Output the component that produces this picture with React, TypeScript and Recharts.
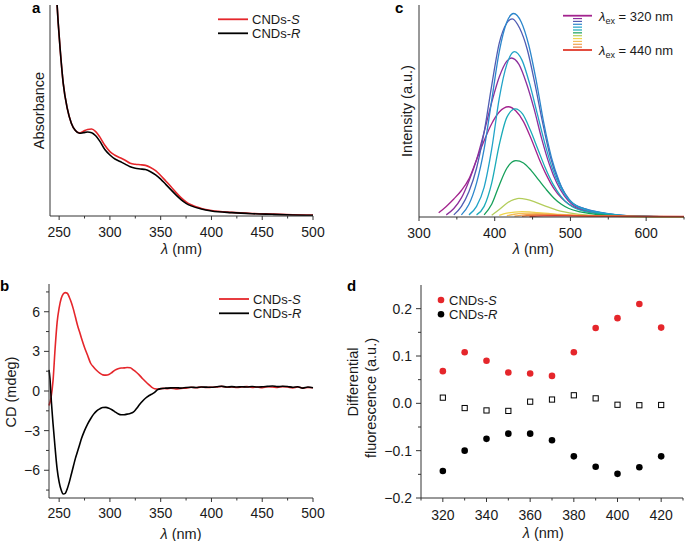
import { LineChart, Line, XAxis, YAxis, ScatterChart, Scatter } from 'recharts';

// ── Style constants ───────────────────────────────────────────────────────────
const FONT = '"Liberation Sans", Arial, Helvetica, sans-serif';
const INK = '#1a1a1a';
const AXIS = '#333333';
const RED = '#e5262b';
const BLACK = '#000000';

type Pt = [number, number];

// ── a: absorbance ─────────────────────────────────────────────────────────────
const absWavelength = [247, 249, 251, 254, 258, 262, 266, 270, 274, 278, 282, 286, 290, 295, 300, 305, 310, 315, 320, 325, 330, 335, 340, 345, 350, 355, 360, 365, 370, 375, 380, 390, 400, 420, 440, 460, 480, 500];
const absS = [108, 92, 79, 63, 51, 44, 40.5, 39.4, 40.2, 41, 41.2, 40, 37.5, 33.5, 30.5, 28.8, 27.6, 26.4, 25, 24.5, 24.3, 24, 23, 21.5, 19.2, 16.6, 14, 11.2, 8.7, 6.7, 5.3, 3.6, 2.6, 1.7, 1.2, 0.9, 0.6, 0.4];
const absR = [108, 92, 79, 63, 51, 44, 40.5, 39.2, 39.5, 39.8, 39.5, 38, 35.5, 31.5, 28.9, 27, 25.8, 24.6, 23.3, 22.6, 22.3, 22, 21, 19.5, 17.5, 15, 12.5, 10, 7.8, 6, 4.8, 3.3, 2.4, 1.6, 1.1, 0.8, 0.5, 0.3];
const absTicks = [250, 275, 300, 325, 350, 375, 400, 425, 450, 475, 500];

// ── b: circular dichroism ─────────────────────────────────────────────────────
const cdS: Pt[] = [
  [240, -1.1], [242, -0.5], [244, 0.8], [246, 3.2], [248, 5.2], [250, 6.3], [252, 7.0], [254, 7.35], [256, 7.45], [258, 7.4],
  [260, 7.1], [262, 6.7], [264, 6.2], [266, 5.6], [268, 5.0], [270, 4.5], [272, 4.0], [275, 3.3], [278, 2.7], [281, 2.1],
  [284, 1.8], [287, 1.55], [290, 1.35], [293, 1.22], [296, 1.2], [299, 1.25], [302, 1.4], [305, 1.58], [308, 1.68], [311, 1.74],
  [314, 1.75], [317, 1.78], [320, 1.76], [323, 1.6], [326, 1.42], [329, 1.2], [332, 0.95], [335, 0.72], [338, 0.5], [341, 0.3],
  [344, 0.17], [348, 0.15], [352, 0.2], [356, 0.18], [360, 0.22], [365, 0.16], [370, 0.2], [375, 0.22], [380, 0.28], [385, 0.25],
  [390, 0.3], [395, 0.26], [400, 0.28], [405, 0.3], [410, 0.35], [415, 0.28], [420, 0.3], [425, 0.26], [430, 0.3], [435, 0.33],
  [440, 0.26], [445, 0.3], [450, 0.25], [455, 0.32], [460, 0.3], [465, 0.27], [470, 0.33], [475, 0.3], [480, 0.24], [485, 0.3],
  [490, 0.22], [495, 0.26], [500, 0.24],
];
const cdR: Pt[] = [
  [240, 1.6], [241, 0.9], [242, -0.4], [244, -2.5], [246, -4.3], [248, -5.9], [250, -6.9], [252, -7.5], [254, -7.8], [256, -7.75],
  [258, -7.4], [260, -6.9], [262, -6.3], [264, -5.7], [266, -5.1], [268, -4.6], [270, -4.1], [272, -3.6], [275, -3.0], [278, -2.5],
  [281, -2.1], [284, -1.75], [287, -1.5], [290, -1.35], [293, -1.25], [296, -1.24], [299, -1.3], [302, -1.42], [305, -1.58], [308, -1.72],
  [311, -1.8], [314, -1.8], [317, -1.75], [320, -1.7], [323, -1.6], [326, -1.35], [329, -1.05], [332, -0.78], [335, -0.55], [338, -0.38],
  [341, -0.25], [344, -0.1], [347, 0.1], [350, 0.18], [355, 0.22], [360, 0.24], [365, 0.25], [370, 0.22], [375, 0.26], [380, 0.28],
  [385, 0.27], [390, 0.3], [395, 0.29], [400, 0.28], [405, 0.32], [410, 0.36], [415, 0.3], [420, 0.33], [425, 0.3], [430, 0.32],
  [435, 0.3], [440, 0.34], [445, 0.3], [450, 0.32], [455, 0.35], [460, 0.38], [465, 0.33], [470, 0.36], [475, 0.34], [480, 0.28],
  [485, 0.32], [490, 0.22], [495, 0.3], [500, 0.25],
];
const cdXTicks = [250, 275, 300, 325, 350, 375, 400, 425, 450, 475, 500];
const cdYTicks = [-7.5, -6, -4.5, -3, -1.5, 0, 1.5, 3, 4.5, 6, 7.5];

// ── c: emission spectra, one per excitation wavelength ───────────────────────
const pl320: Pt[] = [[326, 2], [336, 5], [346, 8.5], [356, 12.5], [366, 18], [376, 27], [386, 36], [396, 44], [406, 49.5], [418, 52], [428, 50], [438, 45], [448, 37], [458, 28], [468, 20], [478, 13.5], [488, 9], [498, 6], [513, 3.5], [533, 2], [553, 1], [580, 0.4], [650, 0.1]];
const pl330: Pt[] = [[336, 1], [346, 4], [356, 9], [366, 17], [376, 27], [386, 40], [396, 54], [406, 66], [416, 73.5], [422, 75], [432, 72], [442, 63], [452, 51], [462, 37], [472, 25], [482, 16], [492, 10], [502, 6], [517, 3.5], [537, 2], [557, 1], [580, 0.4], [650, 0.1]];
const pl340: Pt[] = [[346, 1], [356, 5], [366, 12], [376, 23], [386, 40], [396, 62], [406, 82], [416, 91.5], [423, 93.5], [433, 89], [443, 79], [453, 63], [463, 45], [473, 29], [483, 18], [493, 11], [503, 6.5], [518, 4], [538, 2.2], [558, 1.1], [580, 0.5], [610, 0.2], [650, 0.1]];
const pl350: Pt[] = [[356, 1], [366, 6], [376, 16], [386, 32], [396, 55], [406, 78], [416, 92], [425, 96], [435, 92], [445, 81], [455, 64], [465, 44], [475, 28], [485, 17], [495, 9.5], [505, 6], [520, 3.8], [540, 2.2], [560, 1.1], [580, 0.5], [610, 0.2], [650, 0.1]];
const pl360: Pt[] = [[366, 1], [376, 5], [386, 14], [396, 32], [406, 56], [416, 72], [426, 78], [436, 74], [446, 63], [456, 49], [466, 35], [476, 23], [486, 14.5], [496, 9], [506, 5.5], [521, 3.3], [541, 1.9], [561, 1], [585, 0.4], [650, 0.1]];
const pl370: Pt[] = [[376, 1], [386, 5], [396, 16], [406, 34], [416, 47], [427, 51], [437, 48.5], [447, 41], [457, 32], [467, 23], [477, 15.5], [487, 10], [497, 6.2], [507, 4], [522, 2.4], [542, 1.4], [562, 0.8], [590, 0.3], [650, 0.1]];
const pl380: Pt[] = [[386, 1], [396, 6], [406, 15], [416, 23], [428, 26.6], [438, 25.5], [448, 22], [458, 17.5], [468, 13], [478, 9], [488, 6], [498, 4], [513, 2.4], [533, 1.3], [553, 0.7], [580, 0.3], [650, 0.1]];
const pl390: Pt[] = [[396, 0.8], [406, 3.5], [416, 6.5], [426, 8.3], [432, 8.8], [442, 8.3], [452, 7.2], [462, 5.8], [472, 4.5], [482, 3.3], [492, 2.4], [507, 1.5], [527, 0.8], [550, 0.4], [580, 0.2], [650, 0.05]];
const pl400: Pt[] = [[406, 0.8], [416, 1.8], [426, 2.3], [436, 2.5], [446, 2.4], [456, 2.1], [466, 1.8], [476, 1.5], [486, 1.2], [500, 0.9], [520, 0.6], [545, 0.35], [580, 0.2], [650, 0.05]];
const pl410: Pt[] = [[416, 0.6], [426, 1.3], [436, 1.7], [446, 1.8], [456, 1.7], [466, 1.5], [476, 1.3], [490, 1.0], [510, 0.7], [530, 0.5], [560, 0.3], [600, 0.15], [650, 0.05]];
const pl420: Pt[] = [[426, 0.4], [436, 0.9], [446, 1.2], [456, 1.25], [466, 1.2], [476, 1.1], [490, 0.9], [510, 0.7], [530, 0.5], [560, 0.35], [600, 0.2], [650, 0.1]];
const pl430: Pt[] = [[436, 0.3], [446, 0.7], [456, 0.85], [466, 0.9], [480, 0.85], [500, 0.7], [520, 0.55], [550, 0.4], [600, 0.25], [650, 0.15]];
const pl440: Pt[] = [[446, 0.2], [456, 0.45], [466, 0.55], [480, 0.6], [500, 0.55], [530, 0.45], [570, 0.35], [610, 0.3], [650, 0.25]];

const plExcitation = [320, 330, 340, 350, 360, 370, 380, 390, 400, 410, 420, 430, 440];
const plColors = ['#a3238e', '#8c2f9c', '#4f5cb3', '#2c86cc', '#21a3c8', '#1aabb8', '#16a05a', '#b3cd5b', '#efd54c', '#f3bd57', '#f1a34e', '#e87a3c', '#e0392b'];
const plSpectra = [pl320, pl330, pl340, pl350, pl360, pl370, pl380, pl390, pl400, pl410, pl420, pl430, pl440];
const plXTicks = [300, 350, 400, 450, 500, 550, 600, 650];

// ── d: differential fluorescence ──────────────────────────────────────────────
const dfWavelength = [320, 330, 340, 350, 360, 370, 380, 390, 400, 410, 420];
const dfS = [0.068, 0.108, 0.090, 0.065, 0.063, 0.058, 0.108, 0.159, 0.180, 0.210, 0.160];
const dfR = [-0.143, -0.100, -0.075, -0.064, -0.064, -0.078, -0.112, -0.134, -0.149, -0.135, -0.112];
const dfDiff = [0.012, -0.010, -0.015, -0.016, 0.0035, 0.008, 0.017, 0.0105, -0.003, -0.004, -0.0035];
const dfXTicks = [310, 320, 330, 340, 350, 360, 370, 380, 390, 400, 410, 420, 430];
const dfYTicks = [-0.2, -0.15, -0.1, -0.05, 0, 0.05, 0.1, 0.15, 0.2];

// ── Helpers ───────────────────────────────────────────────────────────────────
const toRows = (pts: Pt[]) => pts.map(([x, y]) => ({ x, y }));
const zip = (xs: number[], ys: number[]) => xs.map((x, i) => ({ x, y: ys[i] }));
const minus = (s: string) => s.replace('-', '\u2212');
const isMajor = (v: number, step: number) => Math.abs(v / step - Math.round(v / step)) < 1e-6;

function bottomTick(step: number, labelDy: number, fmt: (v: number) => string = v => String(v)) {
  return (props: any) => {
    const { x, y, payload } = props;
    const v = Number(payload.value);
    const major = isMajor(v, step);
    return (
      <g>
        <line x1={x} x2={x} y1={y} y2={y + (major ? 4 : 2.5)} stroke={AXIS} />
        {major && (
          <text x={x} y={y + labelDy} textAnchor="middle" fontSize={14} fontFamily={FONT} fill={INK}>
            {fmt(v)}
          </text>
        )}
      </g>
    );
  };
}

function leftTick(step: number, fmt: (v: number) => string) {
  return (props: any) => {
    const { x, y, payload } = props;
    const v = Number(payload.value);
    const major = isMajor(v, step);
    return (
      <g>
        <line x1={x - (major ? 5 : 3)} x2={x} y1={y} y2={y} stroke={AXIS} />
        {major && (
          <text x={x - 9} y={y + 5} textAnchor="end" fontSize={14} fontFamily={FONT} fill={INK}>
            {fmt(v)}
          </text>
        )}
      </g>
    );
  };
}

function LineKey({ x, y, color, tag }: { x: number; y: number; color: string; tag: string }) {
  return (
    <g>
      <line x1={x} x2={x + 30} y1={y} y2={y} stroke={color} strokeWidth={1.8} />
      <text x={x + 34} y={y + 4.5} fontSize={13} fontFamily={FONT} fill={INK}>
        CNDs-<tspan fontStyle="italic">{tag}</tspan>
      </text>
    </g>
  );
}

function LambdaTitle({ x, y }: { x: number; y: number }) {
  return (
    <text x={x} y={y} textAnchor="middle" fontSize={14.5} fontFamily={FONT} fill={INK}>
      <tspan fontStyle="italic">λ</tspan> (nm)
    </text>
  );
}

function VTitle({ x, y, text }: { x: number; y: number; text: string }) {
  return (
    <text
      x={x}
      y={y}
      transform={`rotate(-90 ${x} ${y})`}
      textAnchor="middle"
      dominantBaseline="central"
      fontSize={14.5}
      fontFamily={FONT}
      fill={INK}
    >
      {text}
    </text>
  );
}

function ExKey({ y, ex }: { y: number; ex: number }) {
  return (
    <text x={599} y={y + 5} fontSize={13} fontFamily={FONT} fill={INK}>
      <tspan fontStyle="italic">λ</tspan>
      <tspan fontSize={9} dy={3}>ex</tspan>
      <tspan dy={-3}> = {ex} nm</tspan>
    </text>
  );
}

// ── Overlay: panel letters, titles, legends ───────────────────────────────────
function Overlay() {
  const first = 15.7;
  const last = 50;
  const gap = (last - first) / (plColors.length - 1);
  return (
    <svg width={685} height={541} style={{ position: 'absolute', left: 0, top: 0, pointerEvents: 'none' }}>
      <g fontFamily={FONT} fontWeight="bold" fontSize={15} fill="#000">
        <text x={32} y={13}>a</text>
        <text x={0} y={290.7}>b</text>
        <text x={395} y={13}>c</text>
        <text x={347} y={290.7}>d</text>
      </g>

      <VTitle x={39} y={110.5} text="Absorbance" />
      <LambdaTitle x={181.5} y={254} />
      <LineKey x={218} y={19.3} color={RED} tag="S" />
      <LineKey x={218} y={33.3} color={BLACK} tag="R" />

      <VTitle x={11} y={392} text="CD (mdeg)" />
      <LambdaTitle x={181} y={538.5} />
      <LineKey x={219} y={299} color={RED} tag="S" />
      <LineKey x={219} y={313.3} color={BLACK} tag="R" />

      <VTitle x={406.7} y={111} text="Intensity (a.u.)" />
      <LambdaTitle x={533.3} y={254} />
      {plColors.map((c, i) => {
        const edge = i === 0 || i === plColors.length - 1;
        return (
          <line
            key={c}
            x1={edge ? 563 : 573}
            x2={edge ? 592 : 582}
            y1={first + i * gap}
            y2={first + i * gap}
            stroke={c}
            strokeWidth={edge ? 1.8 : 1.2}
          />
        );
      })}
      <ExKey y={first} ex={plExcitation[0]} />
      <ExKey y={last} ex={plExcitation[plExcitation.length - 1]} />

      <VTitle x={353.3} y={382} text="Differential" />
      <VTitle x={370.7} y={398} text="fluorescence (a.u.)" />
      <LambdaTitle x={543.3} y={538} />
      <circle cx={441} cy={300} r={3.3} fill={RED} />
      <text x={449} y={304.5} fontSize={13} fontFamily={FONT} fill={INK}>
        CNDs-<tspan fontStyle="italic">S</tspan>
      </text>
      <circle cx={441} cy={314.3} r={3.3} fill={BLACK} />
      <text x={449} y={318.8} fontSize={13} fontFamily={FONT} fill={INK}>
        CNDs-<tspan fontStyle="italic">R</tspan>
      </text>
    </svg>
  );
}

// ── Panels ────────────────────────────────────────────────────────────────────
function AbsorbancePanel() {
  const rows = absWavelength.map((x, i) => ({ x, s: absS[i], r: absR[i] }));
  return (
    <LineChart width={340} height={268} data={rows} margin={{ top: 5, right: 27, bottom: 0, left: 0 }}>
      <XAxis dataKey="x" type="number" domain={[241, 500]} ticks={absTicks} interval={0}
        tickSize={0} tickMargin={0} tickLine={false} height={52} stroke={AXIS} tick={bottomTick(50, 20.5)} />
      <XAxis xAxisId="top" orientation="top" type="number" domain={[241, 500]} tick={false} tickLine={false} height={0} stroke={AXIS} />
      <YAxis type="number" domain={[0, 100]} allowDataOverflow tick={false} tickLine={false} width={50} stroke={AXIS} />
      <YAxis yAxisId="right" orientation="right" tick={false} tickLine={false} width={0} stroke={AXIS} />
      <Line type="monotone" dataKey="s" stroke={RED} strokeWidth={1.6} dot={false} isAnimationActive={false} />
      <Line type="monotone" dataKey="r" stroke={BLACK} strokeWidth={1.6} dot={false} isAnimationActive={false} />
    </LineChart>
  );
}

function CdPanel() {
  return (
    <LineChart width={340} height={271} margin={{ top: 14, right: 27, bottom: 0, left: 0 }}>
      <XAxis dataKey="x" type="number" domain={[240, 500]} ticks={cdXTicks} interval={0}
        tickSize={0} tickMargin={0} tickLine={false} height={43} stroke={AXIS} tick={bottomTick(50, 20)} />
      <XAxis xAxisId="top" orientation="top" type="number" domain={[240, 500]} tick={false} tickLine={false} height={0} stroke={AXIS} />
      <YAxis type="number" domain={[-8.1, 8.1]} ticks={cdYTicks} interval={0} tickSize={0} tickMargin={0}
        tickLine={false} width={49} stroke={AXIS} tick={leftTick(3, v => minus(String(v)))} />
      <YAxis yAxisId="right" orientation="right" tick={false} tickLine={false} width={0} stroke={AXIS} />
      <Line data={toRows(cdS)} type="monotone" dataKey="y" stroke={RED} strokeWidth={1.6} dot={false} isAnimationActive={false} />
      <Line data={toRows(cdR)} type="monotone" dataKey="y" stroke={BLACK} strokeWidth={1.6} dot={false} isAnimationActive={false} />
    </LineChart>
  );
}

function EmissionPanel() {
  return (
    <LineChart width={345} height={268} margin={{ top: 5, right: 1, bottom: 0, left: 0 }}>
      <XAxis dataKey="x" type="number" domain={[300, 650]} ticks={plXTicks} interval={0}
        tickSize={0} tickMargin={0} tickLine={false} height={51} stroke={AXIS} tick={bottomTick(100, 20.5)} />
      <XAxis xAxisId="top" orientation="top" type="number" domain={[300, 650]} tick={false} tickLine={false} height={0} stroke={AXIS} />
      <YAxis type="number" domain={[0, 100]} tick={false} tickLine={false} width={79} stroke={AXIS} />
      <YAxis yAxisId="right" orientation="right" tick={false} tickLine={false} width={0} stroke={AXIS} />
      {plSpectra.map((pts, i) => (
        <Line key={plExcitation[i]} data={toRows(pts)} type="monotone" dataKey="y"
          stroke={plColors[i]} strokeWidth={1.3} dot={false} isAnimationActive={false} />
      ))}
    </LineChart>
  );
}

function DifferentialPanel() {
  return (
    <ScatterChart width={345} height={271} margin={{ top: 15, right: 2, bottom: 0, left: 0 }}>
      <XAxis dataKey="x" type="number" domain={[310, 430]} ticks={dfXTicks} interval={0}
        tickSize={0} tickMargin={0} tickLine={false} height={43} stroke={AXIS} tick={bottomTick(20, 21.5)} />
      <YAxis dataKey="y" type="number" domain={[-0.2, 0.25]} ticks={dfYTicks} interval={0} tickSize={0} tickMargin={0}
        tickLine={false} width={81} stroke={AXIS} tick={leftTick(0.1, v => minus(v.toFixed(1)))} />
      <Scatter data={zip(dfWavelength, dfS)} isAnimationActive={false}
        shape={(p: any) => <circle cx={p.cx} cy={p.cy} r={3.3} fill={RED} />} />
      <Scatter data={zip(dfWavelength, dfR)} isAnimationActive={false}
        shape={(p: any) => <circle cx={p.cx} cy={p.cy} r={3.3} fill={BLACK} />} />
      <Scatter data={zip(dfWavelength, dfDiff)} isAnimationActive={false}
        shape={(p: any) => <rect x={p.cx - 2.6} y={p.cy - 2.6} width={5.2} height={5.2} fill="#fff" stroke={BLACK} strokeWidth={1} />} />
    </ScatterChart>
  );
}

export default function App() {
  return (
    <div style={{ position: 'absolute', left: 0, top: 0, width: 685, height: 541, background: '#fff', fontFamily: FONT }}>
      <div style={{ position: 'absolute', left: 0, top: 0 }}><AbsorbancePanel /></div>
      <div style={{ position: 'absolute', left: 340, top: 0 }}><EmissionPanel /></div>
      <div style={{ position: 'absolute', left: 0, top: 270 }}><CdPanel /></div>
      <div style={{ position: 'absolute', left: 340, top: 270 }}><DifferentialPanel /></div>
      <Overlay />
    </div>
  );
}
